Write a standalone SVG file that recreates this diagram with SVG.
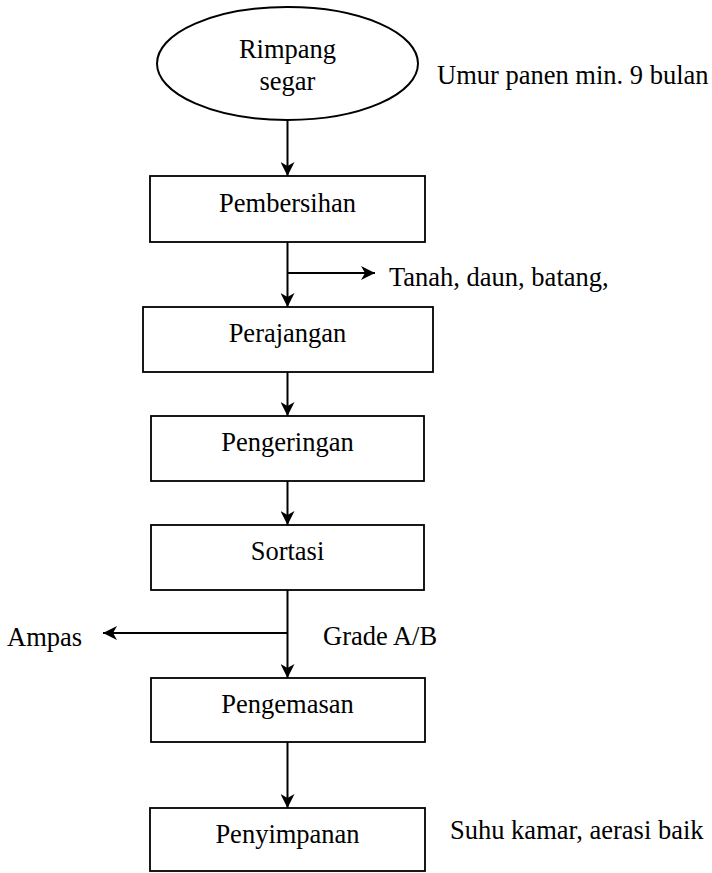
<svg xmlns="http://www.w3.org/2000/svg" width="712" height="873" viewBox="0 0 712 873">
<style>
.box{fill:#fff;stroke:#000;stroke-width:1.8}
.t{font-family:"Liberation Serif","Times New Roman",serif;font-size:26.5px;fill:#000}
.c{text-anchor:middle}
.ln{stroke:#000;stroke-width:2;fill:none;marker-end:url(#ah)}
</style>
<defs>
<marker id="ah" viewBox="0 0 14 14" refX="14" refY="7" markerWidth="14" markerHeight="14" markerUnits="userSpaceOnUse" orient="auto">
<path d="M0,0 L14,7 L0,14 L4,7 Z" fill="#000"/>
</marker>
</defs>
<rect width="712" height="873" fill="#fff"/>
<g id="connectors">
<line class="ln" x1="287.5" y1="120" x2="287.5" y2="176"/>
<line class="ln" x1="287.5" y1="242" x2="287.5" y2="307"/>
<line class="ln" x1="287.5" y1="273" x2="375" y2="273"/>
<line class="ln" x1="287.5" y1="372" x2="287.5" y2="416"/>
<line class="ln" x1="287.5" y1="481" x2="287.5" y2="525"/>
<line class="ln" x1="287.5" y1="590" x2="287.5" y2="678"/>
<line class="ln" x1="287.5" y1="633" x2="103" y2="633"/>
<line class="ln" x1="287.5" y1="742" x2="287.5" y2="808"/>
</g>
<g id="rimpang">
<ellipse cx="287.5" cy="63.5" rx="130.5" ry="56.5" fill="#fff" stroke="#000" stroke-width="2"/>
<text class="t c" x="287.5" y="58">Rimpang</text>
<text class="t c" x="287.5" y="90">segar</text>
</g>
<g id="pembersihan">
<rect class="box" x="150" y="176" width="275" height="66"/>
<text class="t c" x="287.5" y="212">Pembersihan</text>
</g>
<g id="perajangan">
<rect class="box" x="143" y="307" width="290" height="65"/>
<text class="t c" x="287.5" y="342">Perajangan</text>
</g>
<g id="pengeringan">
<rect class="box" x="151" y="416" width="273" height="65"/>
<text class="t c" x="287.5" y="451">Pengeringan</text>
</g>
<g id="sortasi">
<rect class="box" x="151" y="525" width="273" height="65"/>
<text class="t c" x="287.5" y="560">Sortasi</text>
</g>
<g id="pengemasan">
<rect class="box" x="151" y="678" width="274" height="64"/>
<text class="t c" x="287.5" y="713">Pengemasan</text>
</g>
<g id="penyimpanan">
<rect class="box" x="150" y="808" width="275" height="63"/>
<text class="t c" x="287.5" y="843">Penyimpanan</text>
</g>
<g id="labels">
<text class="t" x="437" y="84">Umur panen min. 9 bulan</text>
<text class="t" x="389" y="286">Tanah, daun, batang,</text>
<text class="t" x="7" y="646">Ampas</text>
<text class="t" x="323" y="645">Grade A/B</text>
<text class="t" x="450" y="839">Suhu kamar, aerasi baik</text>
</g>
</svg>
